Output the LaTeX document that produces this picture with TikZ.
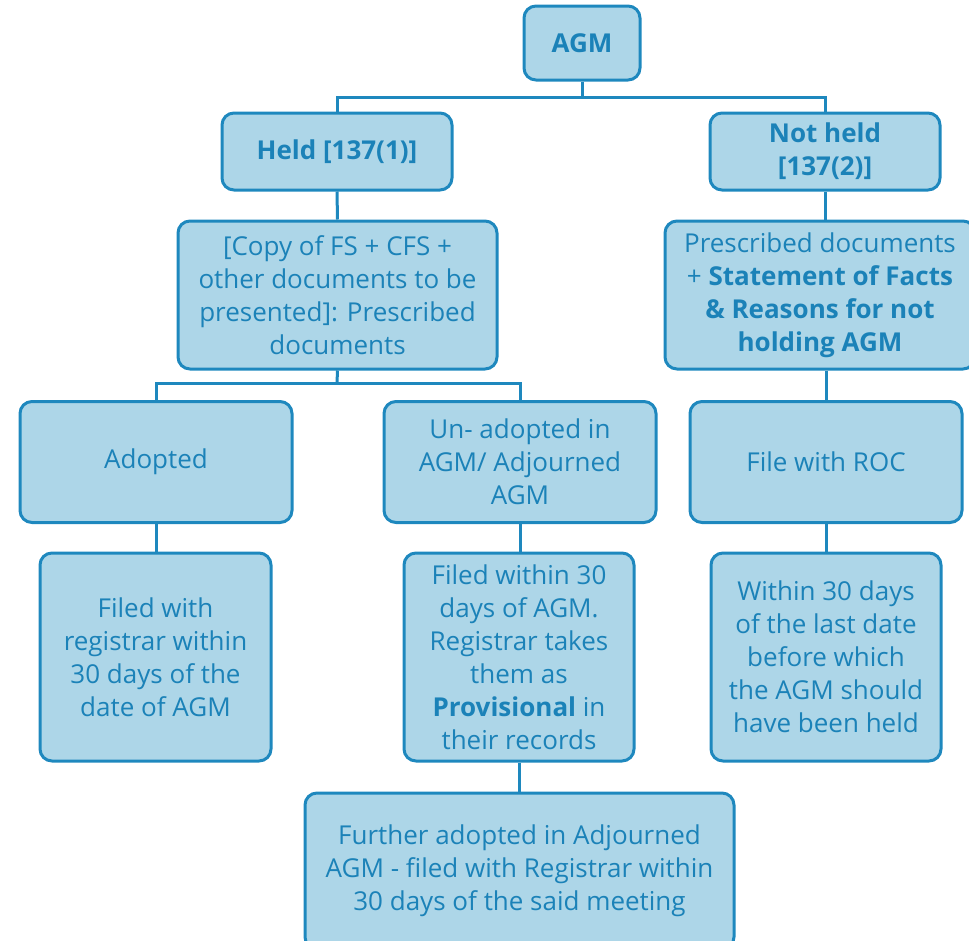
\documentclass[tikz,border=0pt]{standalone}
\usepackage{fontspec}
\setmainfont{Open Sans}
\definecolor{boxfill}{HTML}{ADD6E8}
\definecolor{boxline}{HTML}{1E88BE}
\definecolor{boxtext}{HTML}{1B82B8}
\begin{document}
\begin{tikzpicture}[x=1pt,y=-1pt,
  box/.style={draw=boxline, fill=boxfill, line width=3pt, rounded corners=12pt,
    inner sep=0pt, align=center, text=boxtext,
    font=\fontsize{26}{33}\selectfont},
  boldbox/.style={box, font=\fontsize{26}{33}\selectfont\bfseries},
  conn/.style={draw=boxline, line width=3pt}]
\useasboundingbox (0,0) rectangle (969,940);
\node[boldbox, minimum width=116pt, minimum height=74pt] (agm) at (582,43) {AGM};
\node[boldbox, minimum width=230pt, minimum height=77pt] (held) at (337,151.5) {Held {[}137(1)]};
\node[boldbox, minimum width=230pt, minimum height=77pt] (nheld) at (825,151.5) {Not held\\{[}137(2)]};
\node[box, minimum width=319pt, minimum height=148pt] (copy) at (337.5,295) {{[}Copy of FS + CFS +\\other documents to be\\presented]: Prescribed\\documents};
\node[box, minimum width=310pt, minimum height=148pt] (presc) at (820,295) {Prescribed documents\\+ \textbf{Statement of Facts}\\\textbf{\& Reasons for not}\\\textbf{holding AGM}};
\node[box, minimum width=272pt, minimum height=121pt] (adopt) at (156,462) {Adopted};
\node[box, minimum width=272pt, minimum height=121pt] (unadopt) at (520,462) {Un- adopted in\\AGM/ Adjourned\\AGM};
\node[box, minimum width=272pt, minimum height=121pt] (roc) at (826,462) {File with ROC};
\node[box, minimum width=231pt, minimum height=208pt] (filed) at (155.5,657) {Filed with\\registrar within\\30 days of the\\date of AGM};
\node[box, minimum width=230pt, minimum height=208pt] (fwithin) at (519,657) {Filed within 30\\days of AGM.\\Registrar takes\\them as\\\textbf{Provisional} in\\their records};
\node[box, minimum width=230pt, minimum height=208pt] (within) at (826,657) {Within 30 days\\of the last date\\before which\\the AGM should\\have been held};
\node[box, minimum width=429pt, minimum height=156pt] (further) at (519.5,871) {Further adopted in Adjourned\\AGM - filed with Registrar within\\30 days of the said meeting};
\coordinate (j1) at (582,97);
\coordinate (j2) at (337,383);
\draw[conn] (agm.south) -- (j1);
\draw[conn] (j1) -| (held.north);
\draw[conn] (j1) -| (nheld.north);
\draw[conn] (held.south) -- (copy.north);
\draw[conn] (nheld.south) -- (nheld.south |- presc.north);
\draw[conn] (copy.south) -- (j2);
\draw[conn] (j2) -| (adopt.north);
\draw[conn] (j2) -| (unadopt.north);
\draw[conn] (presc.south -| roc.north) -- (roc.north);
\draw[conn] (adopt.south) -- (adopt.south |- filed.north);
\draw[conn] (unadopt.south) -- (unadopt.south |- fwithin.north);
\draw[conn] (roc.south) -- (within.north);
\draw[conn] (fwithin.south) -- (fwithin.south |- further.north);
\end{tikzpicture}
\end{document}
